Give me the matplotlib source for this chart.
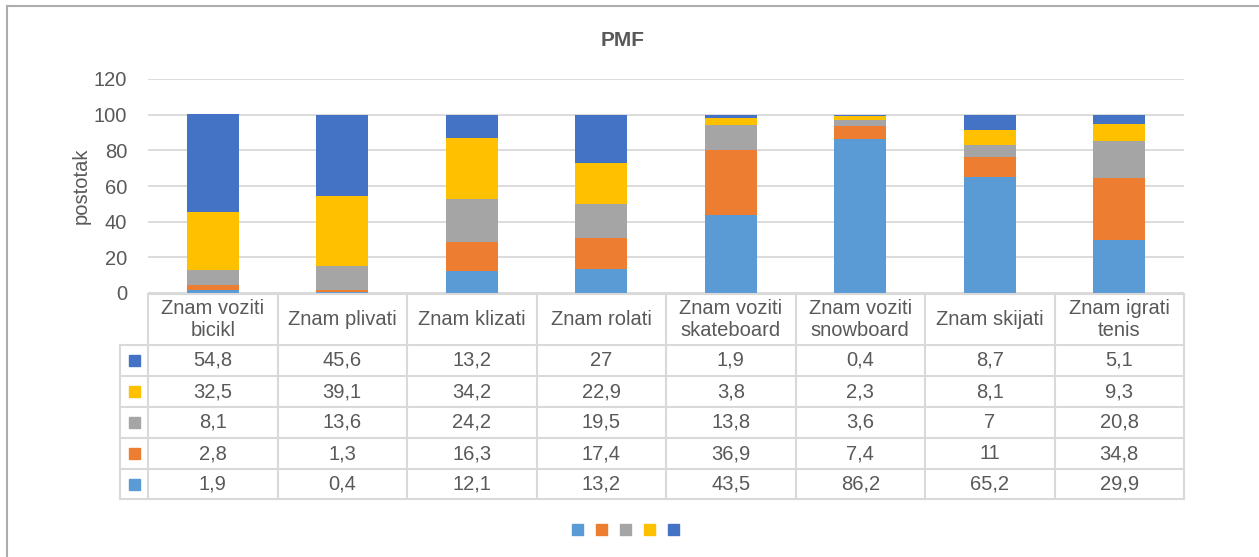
import matplotlib.pyplot as plt
from matplotlib.patches import Rectangle
from matplotlib.lines import Line2D

plt.rcParams['font.family'] = ['Liberation Sans', 'DejaVu Sans']

# podaci
kategorije = ['Znam voziti\nbicikl', 'Znam plivati', 'Znam klizati', 'Znam rolati',
              'Znam voziti\nskateboard', 'Znam voziti\nsnowboard', 'Znam skijati',
              'Znam igrati\ntenis']
s1 = [1.9, 0.4, 12.1, 13.2, 43.5, 86.2, 65.2, 29.9]
s2 = [2.8, 1.3, 16.3, 17.4, 36.9, 7.4, 11, 34.8]
s3 = [8.1, 13.6, 24.2, 19.5, 13.8, 3.6, 7, 20.8]
s4 = [32.5, 39.1, 34.2, 22.9, 3.8, 2.3, 8.1, 9.3]
s5 = [54.8, 45.6, 13.2, 27, 1.9, 0.4, 8.7, 5.1]
serije = [s1, s2, s3, s4, s5]
boje = ['#5B9BD5', '#ED7D31', '#A5A5A5', '#FFC000', '#4472C4']

W, H = 1259, 557
fs = 14.5
fig = plt.figure(figsize=(W / 100, H / 100), dpi=100)

# okvir grafa (gore i lijevo)
okvir = '#ADADAD'
fig.add_artist(Line2D([7 / W, 1], [1 - 6 / H, 1 - 6 / H], color=okvir, lw=1.5))
fig.add_artist(Line2D([7 / W, 7 / W], [0, 1 - 6 / H], color=okvir, lw=1.5))

x0, x1 = 148, 1184
y_top, y_bot = 79, 293
ax = fig.add_axes([x0 / W, 1 - y_bot / H, (x1 - x0) / W, (y_bot - y_top) / H])

n = len(kategorije)
dno = [0] * n
for vals, c in zip(serije, boje):
    ax.bar(range(n), vals, bottom=dno, width=0.4, color=c, zorder=3)
    dno = [a + b for a, b in zip(dno, vals)]

ax.set_xlim(-0.5, n - 0.5)
ax.set_ylim(0, 120)
ax.set_yticks(range(0, 121, 20))
ax.set_xticks([])
ax.grid(axis='y', color='#D9D9D9', lw=1.3, zorder=0)
for s in ax.spines.values():
    s.set_visible(False)
ax.tick_params(axis='y', length=0, labelsize=fs, labelcolor='#595959', pad=15)
ax.set_ylabel('postotak', fontsize=fs, color='#595959', labelpad=2)
fig.text(623 / W, 1 - 40 / H, 'PMF', ha='center', va='center', fontsize=15,
         fontweight='bold', color='#595959')

# tablica podataka
linija = '#D9D9D9'
txt = '#595959'
cw = (x1 - x0) / n
redovi = [294, 345, 376, 407, 438, 469, 499]
kx = 120

def fx(px):
    return px / W

def fy(py):
    return 1 - py / H

# horizontalne linije
fig.add_artist(Line2D([fx(x0), fx(x1)], [fy(redovi[0])] * 2, color=linija, lw=1.5))
for r in redovi[1:]:
    fig.add_artist(Line2D([fx(kx), fx(x1)], [fy(r)] * 2, color=linija, lw=1.5))
# vertikalne linije
fig.add_artist(Line2D([fx(kx)] * 2, [fy(redovi[1]), fy(redovi[-1])], color=linija, lw=1.5))
for i in range(n + 1):
    xx = x0 + i * cw
    fig.add_artist(Line2D([fx(xx)] * 2, [fy(redovi[0]), fy(redovi[-1])], color=linija, lw=1.5))

for i, k in enumerate(kategorije):
    fig.text(fx(x0 + (i + 0.5) * cw), fy((redovi[0] + redovi[1]) / 2), k,
             ha='center', va='center', fontsize=fs, color=txt, linespacing=1.15)

# redovi u tablici idu od zadnje serije prema prvoj
for j, (vals, c) in enumerate(zip(serije[::-1], boje[::-1])):
    yc = (redovi[j + 1] + redovi[j + 2]) / 2
    sq = 11
    fig.add_artist(Rectangle((fx(134 - sq / 2), fy(yc + sq / 2)), sq / W, sq / H,
                             color=c, transform=fig.transFigure))
    for i, v in enumerate(vals):
        fig.text(fx(x0 + (i + 0.5) * cw), fy(yc), f'{v:g}'.replace('.', ','),
                 ha='center', va='center', fontsize=fs, color=txt)

# legenda
for i, c in enumerate(boje):
    cx = 577 + i * 24
    sq = 11
    fig.add_artist(Rectangle((fx(cx - sq / 2), fy(529 + sq / 2)), sq / W, sq / H,
                             color=c, transform=fig.transFigure))

fig.savefig('out.png', dpi=100)
